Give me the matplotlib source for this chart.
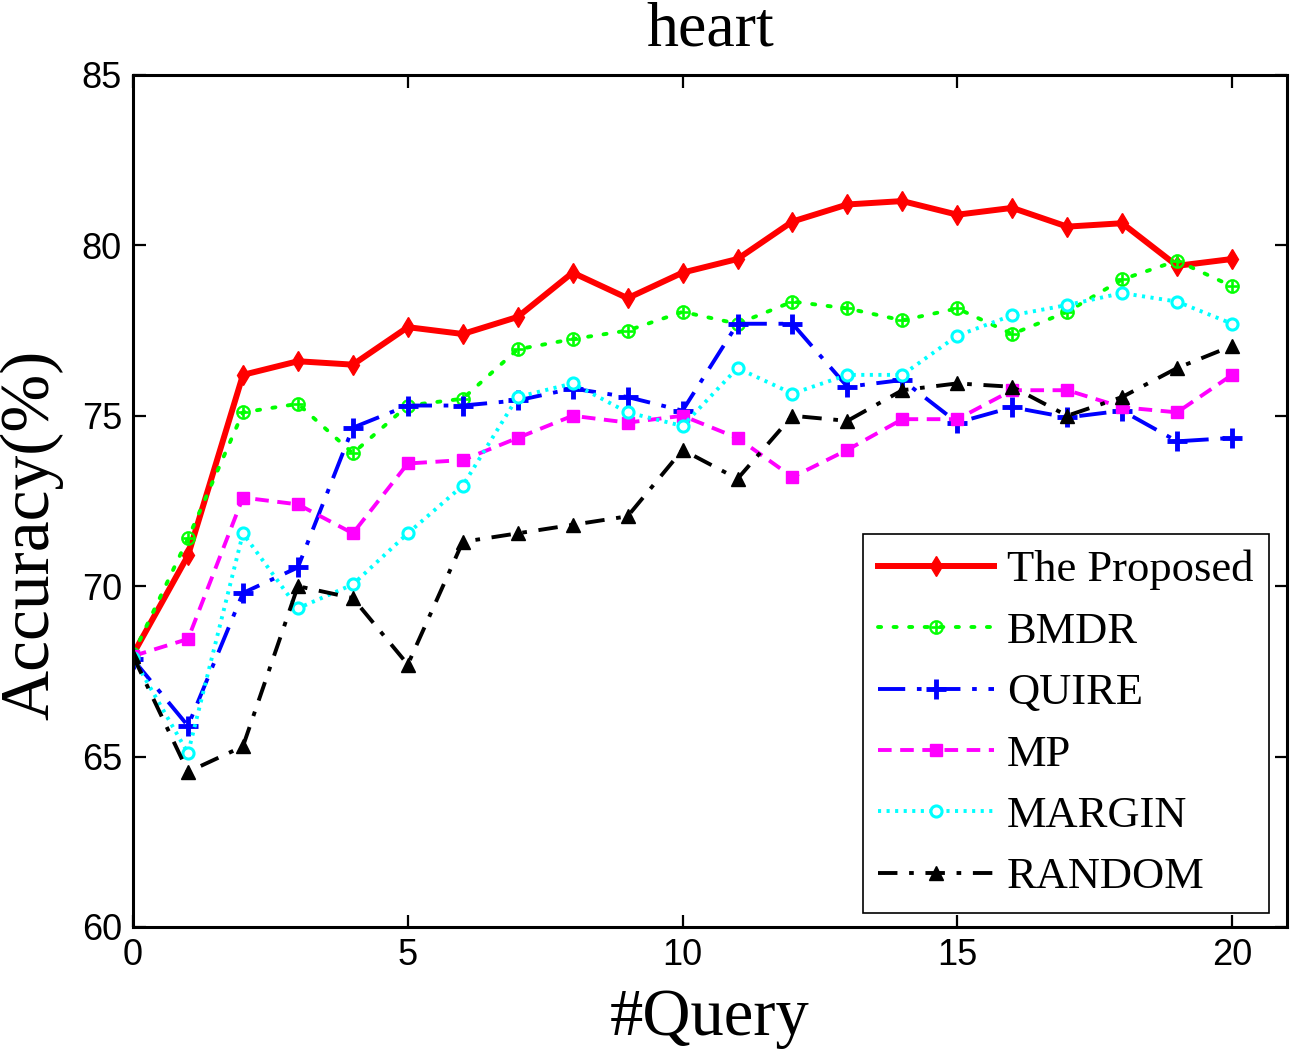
import matplotlib
matplotlib.use("Agg")
import matplotlib.pyplot as plt

# data
queries = list(range(21))
proposed = [68.0, 70.9, 76.2, 76.6, 76.5, 77.6, 77.4, 77.9, 79.2, 78.45, 79.2,
            79.6, 80.7, 81.2, 81.3, 80.9, 81.1, 80.55, 80.65, 79.4, 79.6]
bmdr = [68.0, 71.4, 75.1, 75.35, 73.9, 75.3, 75.5, 76.95, 77.25, 77.5, 78.05,
        77.7, 78.35, 78.15, 77.8, 78.15, 77.4, 78.05, 79.0, 79.55, 78.8]
quire = [67.85, 65.9, 69.8, 70.55, 74.65, 75.3, 75.3, 75.45, 75.8, 75.55, 75.15,
         77.7, 77.7, 75.85, 76.05, 74.8, 75.25, 74.95, 75.15, 74.25, 74.35]
mp = [67.95, 68.45, 72.6, 72.4, 71.55, 73.6, 73.7, 74.35, 75.0, 74.8, 75.0,
      74.35, 73.2, 74.0, 74.9, 74.9, 75.75, 75.75, 75.25, 75.1, 76.2]
margin = [67.9, 65.1, 71.55, 69.35, 70.05, 71.55, 72.95, 75.55, 75.95, 75.1, 74.7,
          76.4, 75.65, 76.2, 76.2, 77.35, 77.95, 78.25, 78.6, 78.35, 77.7]
random_ = [67.95, 64.55, 65.3, 70.0, 69.65, 67.7, 71.3, 71.55, 71.8, 72.05, 74.0,
           73.15, 75.0, 74.85, 75.75, 75.95, 75.85, 75.0, 75.55, 76.4, 77.05]

labels = ["The Proposed", "BMDR", "QUIRE", "MP", "MARGIN", "RANDOM"]

serif = ["Liberation Serif", "DejaVu Serif"]
sans = ["Liberation Sans", "DejaVu Sans"]

fig = plt.figure(figsize=(13.07, 10.56), dpi=100)
ax = fig.add_axes([0.1018, 0.1222, 0.8829, 0.8068])

ax.plot(queries, proposed, color="red", lw=4.3, ls="-", marker="d", ms=10,
        label=labels[0])
ax.plot(queries, bmdr, color=(0, 1, 0), lw=2.8, ls=(0, (0.8, 3.2)),
        dash_capstyle="round", marker=r"$\oplus$", ms=10, mew=0.5,
        label=labels[1])
ax.plot(queries, quire, color="blue", lw=2.8, ls=(0, (7, 3, 1.2, 3)),
        marker="+", ms=14, mew=3.5, label=labels[2])
ax.plot(queries, mp, color="magenta", lw=2.8, ls=(0, (3.5, 2.2)),
        marker="s", ms=8, label=labels[3])
ax.plot(queries, margin, color="cyan", lw=2.8, ls=(0, (0.8, 1.4)),
        marker="o", ms=8, mfc="white", mew=2.2, label=labels[4])
ax.plot(queries, random_, color="black", lw=2.8, ls=(0, (5, 3, 1.2, 3)),
        marker="^", ms=10, label=labels[5])

ax.set_xlim(0, 21)
ax.set_ylim(60, 85)
ax.set_xticks([0, 5, 10, 15, 20])
ax.set_yticks([60, 65, 70, 75, 80, 85])
ax.tick_params(direction="in", length=9, width=1.6, top=True, right=True,
               labelsize=26, pad=8)
for lab in ax.get_xticklabels() + ax.get_yticklabels():
    lab.set_family(sans)
for sp in ax.spines.values():
    sp.set_linewidth(2.2)

ax.set_title("heart", family=serif, fontsize=46, pad=21)
ax.set_xlabel("#Query", family=serif, fontsize=48, labelpad=11)
ax.set_ylabel("Accuracy(%)", family=serif, fontsize=50)
ax.yaxis.set_label_coords(-0.06, 0.46)

leg = ax.legend(loc="lower right", bbox_to_anchor=(0.9844, 0.0164),
                borderaxespad=0, prop={"family": serif, "size": 32},
                handlelength=2.6, handletextpad=0.3, labelspacing=0.48,
                fancybox=False, framealpha=1, edgecolor="black", numpoints=1,
                borderpad=0.35)
leg.get_frame().set_linewidth(1.2)

fig.savefig("out.png", dpi=100)
